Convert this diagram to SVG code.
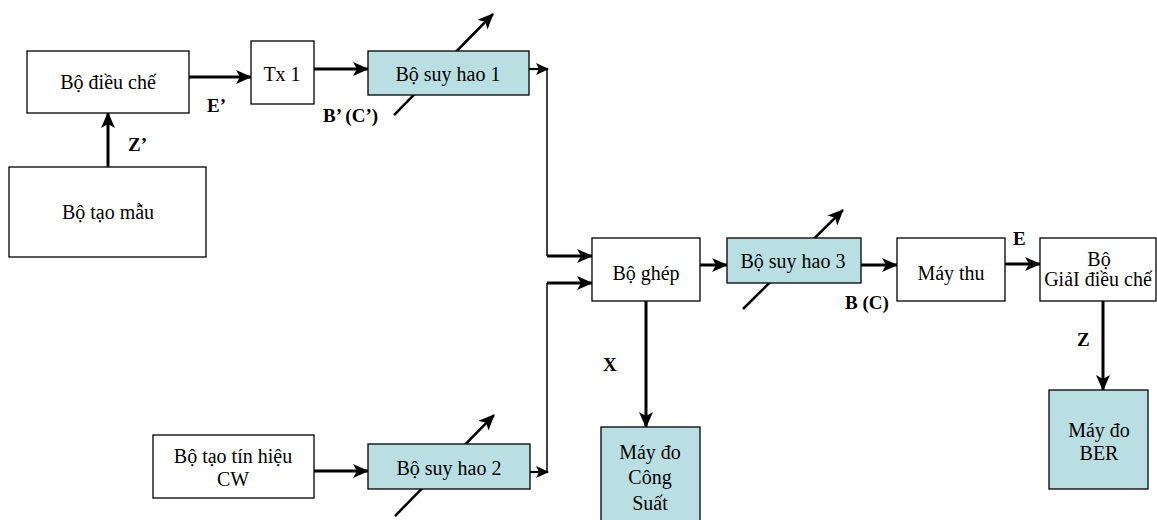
<svg xmlns="http://www.w3.org/2000/svg" width="1157" height="520" viewBox="0 0 1157 520">
<defs>
<style>
.box{fill:#fff;stroke:#000;stroke-width:1.3}
.att{fill:#b9dfe3;stroke:#000;stroke-width:1.3}
.t{font-family:"Liberation Serif","Times New Roman",serif;font-size:20px;fill:#000;text-anchor:middle}
.lb{font-family:"Liberation Serif","Times New Roman",serif;font-size:19px;font-weight:bold;fill:#000}
.thick{stroke:#000;stroke-width:3;fill:none;marker-end:url(#ah)}
.thin{stroke:#000;stroke-width:1.5;fill:none}
.mid{stroke:#000;stroke-width:2.2;fill:none;marker-end:url(#ahs)}
.diag{stroke:#000;stroke-width:2.5;fill:none;marker-end:url(#ah)}
</style>
<marker id="ah" markerUnits="userSpaceOnUse" markerWidth="16" markerHeight="14" refX="15" refY="7" orient="auto" viewBox="0 0 16 14">
<path d="M0,0 L16,7 L0,14 L4,7 z" fill="#000"/>
</marker>
<marker id="ahs" markerUnits="userSpaceOnUse" markerWidth="13" markerHeight="12" refX="12" refY="6" orient="auto" viewBox="0 0 13 12">
<path d="M0,0 L13,6 L0,12 L3,6 z" fill="#000"/>
</marker>
</defs>
<rect width="1157" height="520" fill="#fff"/>
<g id="connectors">
<line class="thick" x1="189" y1="77" x2="251" y2="77"/>
<line class="thick" x1="108" y1="167" x2="108" y2="113"/>
<line class="thick" x1="314" y1="69" x2="368" y2="69"/>
<line class="diag" x1="394" y1="115" x2="493" y2="14"/>
<line class="mid" x1="529" y1="69" x2="548" y2="69"/>
<polyline class="thin" points="547,69 547,256"/>
<line class="thick" x1="547" y1="256" x2="592" y2="256"/>
<line class="thick" x1="547" y1="283" x2="592" y2="283"/>
<polyline class="thin" points="547,283 547,472"/>
<line class="thick" x1="314" y1="471" x2="368" y2="471"/>
<line class="diag" x1="395" y1="516" x2="494" y2="415"/>
<line class="mid" x1="530" y1="472" x2="548" y2="472"/>
<line class="thick" x1="700" y1="265" x2="727" y2="265"/>
<line class="diag" x1="743" y1="309" x2="843" y2="210"/>
<line class="thick" x1="861" y1="265" x2="897" y2="265"/>
<line class="thick" x1="1005" y1="264" x2="1040" y2="264"/>
<line class="thick" x1="646" y1="301" x2="646" y2="427"/>
<line class="thick" x1="1103" y1="301" x2="1103" y2="390"/>
</g>
<g id="n-dieuche"><rect class="box" x="27" y="51" width="162" height="62"/><text class="t" x="108" y="89">Bộ điều chế</text></g>
<g id="n-taomau"><rect class="box" x="9" y="167" width="197" height="90"/><text class="t" x="108" y="219">Bộ tạo mẫu</text></g>
<g id="n-tx1"><rect class="box" x="251" y="41" width="63" height="63"/><text class="t" x="282" y="81">Tx 1</text></g>
<g id="n-suyhao1"><rect class="att" x="368" y="51" width="161" height="44"/><text class="t" x="448" y="81">Bộ suy hao 1</text></g>
<g id="n-cw"><rect class="box" x="153" y="435" width="161" height="63"/><text class="t" x="233" y="463">Bộ tạo tín hiệu</text><text class="t" x="233" y="486">CW</text></g>
<g id="n-suyhao2"><rect class="att" x="368" y="444" width="162" height="45"/><text class="t" x="449" y="475">Bộ suy hao 2</text></g>
<g id="n-ghep"><rect class="box" x="592" y="238" width="108" height="63"/><text class="t" x="646" y="280">Bộ ghép</text></g>
<g id="n-suyhao3"><rect class="att" x="727" y="238" width="134" height="45"/><text class="t" x="793" y="268">Bộ suy hao 3</text></g>
<g id="n-maythu"><rect class="box" x="897" y="238" width="108" height="63"/><text class="t" x="951" y="280">Máy thu</text></g>
<g id="n-giaidieuche"><rect class="box" x="1040" y="238" width="116" height="63"/><text class="t" x="1099" y="266">Bộ</text><text class="t" x="1098" y="286">GiảI điều chế</text></g>
<g id="n-congsuat"><rect class="att" x="601" y="427" width="99" height="100"/><text class="t" x="650" y="459">Máy đo</text><text class="t" x="650" y="484">Công</text><text class="t" x="650" y="510">Suất</text></g>
<g id="n-ber"><rect class="att" x="1049" y="390" width="99" height="99"/><text class="t" x="1099" y="437">Máy đo</text><text class="t" x="1099" y="460">BER</text></g>
<g id="labels">
<text class="lb" x="207" y="112">E’</text>
<text class="lb" x="128" y="151">Z’</text>
<text class="lb" x="323" y="122">B’ (C’)</text>
<text class="lb" x="845" y="309">B (C)</text>
<text class="lb" x="1013" y="245">E</text>
<text class="lb" x="1077" y="346">Z</text>
<text class="lb" x="603" y="371">X</text>
</g>
</svg>
